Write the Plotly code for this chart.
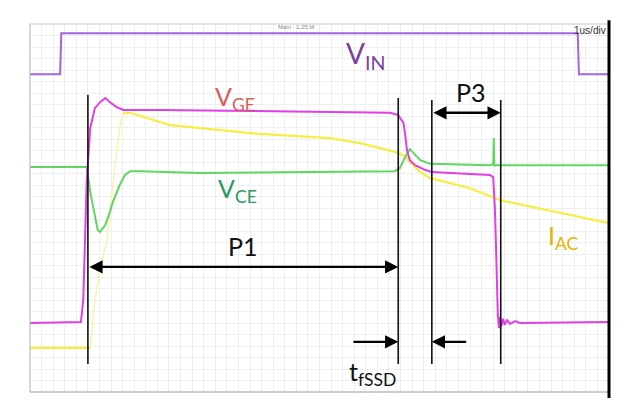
import plotly.graph_objects as go

# time axis in microseconds (1 us/div), vertical in scope divisions
vin_t = [0.00, 0.52, 0.54, 9.46, 9.48, 10.00]
vin_v = [6.91, 6.91, 7.80, 7.80, 6.91, 6.91]

vge_t = [0.00, 0.88, 0.92, 0.95, 0.98, 1.04, 1.12, 1.21, 1.30, 1.38, 1.49, 1.61, 2.25, 3.80,
         5.53, 6.22, 6.36, 6.45, 6.48, 6.51, 6.56, 6.65, 6.82, 6.94, 7.60, 7.94, 8.00, 8.03,
         8.05, 8.07, 8.08, 8.10, 8.12, 8.14, 8.17, 8.20, 8.24, 8.29, 8.38, 8.46, 10.00]
vge_v = [1.50, 1.52, 2.00, 3.30, 4.61, 5.74, 6.17, 6.30, 6.39, 6.30, 6.20, 6.13, 6.13, 6.11,
         6.09, 6.07, 6.02, 5.85, 5.59, 5.26, 5.04, 4.93, 4.83, 4.78, 4.74, 4.72, 4.67, 3.96,
         3.09, 2.20, 1.67, 1.39, 1.63, 1.43, 1.59, 1.46, 1.57, 1.48, 1.54, 1.50, 1.52]

vce_t = [0.00, 0.98, 1.04, 1.12, 1.17, 1.21, 1.30, 1.38, 1.43, 1.55, 1.64, 1.73, 1.90, 2.94,
         4.66, 6.30, 6.39, 6.48, 6.56, 6.65, 6.74, 6.91, 7.94, 8.00, 8.01, 8.02, 8.03, 10.00]
vce_v = [4.89, 4.89, 4.35, 3.80, 3.52, 3.48, 3.63, 3.91, 4.13, 4.50, 4.72, 4.80, 4.80, 4.76,
         4.78, 4.80, 4.87, 5.11, 5.28, 5.15, 5.04, 4.96, 4.93, 4.95, 5.52, 4.90, 4.93, 4.93]

iac_t = [0.00, 1.04, 1.07, 1.12, 1.21, 1.33, 1.42, 1.49, 1.55, 1.61, 1.73, 2.42, 3.28, 3.97,
         5.18, 5.70, 6.30, 6.48, 6.56, 6.74, 6.91, 7.60, 8.12, 10.00]
iac_v = [0.96, 0.96, 1.30, 2.00, 2.70, 3.30, 4.39, 5.11, 5.76, 6.07, 6.07, 5.80, 5.70, 5.61,
         5.52, 5.41, 5.22, 5.13, 5.00, 4.78, 4.65, 4.43, 4.17, 3.67]
iac_rise_end = 9  # index where the (faintly drawn) fast rise reaches its peak

# annotation geometry (time markers, in us / div)
marker_t = [1.00, 6.36, 6.94, 8.13]
marker_top = [6.46, 6.39, 6.35, 6.35]
marker_bottom = 0.61
p1_level = 2.72
p3_level = 6.07
tfssd_level = 1.09
tfssd_left_start = 5.56
tfssd_right_start = 7.56

labels = [
    ("V<sub>IN</sub>", 5.79, 7.33, "#7b3f9e", 28),
    ("V<sub>GE</sub>", 3.54, 6.39, "#d4605a", 25),
    ("V<sub>CE</sub>", 3.58, 4.39, "#2a9a62", 25),
    ("I<sub>AC</sub>", 9.21, 3.37, "#e2b400", 25),
    ("P1", 3.68, 3.17, "#111111", 25),
    ("P3", 7.62, 6.52, "#111111", 25),
    ("t<sub>fSSD</sub>", 5.91, 0.41, "#111111", 25),
]

fig = go.Figure()
fig.add_trace(go.Scatter(x=vin_t, y=vin_v, mode="lines", line=dict(color="#a563df", width=2)))
fig.add_trace(go.Scatter(x=iac_t[:2], y=iac_v[:2], mode="lines", line=dict(color="#f3ef45", width=2.2)))
fig.add_trace(go.Scatter(x=iac_t[1:iac_rise_end + 1], y=iac_v[1:iac_rise_end + 1], mode="lines",
                         line=dict(color="#f7f5a8", width=1.5)))
fig.add_trace(go.Scatter(x=iac_t[iac_rise_end:], y=iac_v[iac_rise_end:], mode="lines",
                         line=dict(color="#f3ef45", width=2.2)))
fig.add_trace(go.Scatter(x=vce_t, y=vce_v, mode="lines", line=dict(color="#5fd660", width=2)))
fig.add_trace(go.Scatter(x=vge_t, y=vge_v, mode="lines", line=dict(color="#e03fe6", width=2)))

shapes = []
for t, top in zip(marker_t, marker_top):
    shapes.append(dict(type="line", xref="x", yref="y", x0=t, x1=t, y0=marker_bottom, y1=top,
                       line=dict(color="#111111", width=1.6)))
# frame
shapes.append(dict(type="line", xref="paper", yref="paper", x0=0, x1=0, y0=0, y1=1,
                   line=dict(color="#bdbdbd", width=1.2)))
shapes.append(dict(type="line", xref="paper", yref="paper", x0=0, x1=1, y0=0, y1=0,
                   line=dict(color="#bdbdbd", width=1.5)))
shapes.append(dict(type="line", xref="paper", yref="paper", x0=0, x1=1, y0=1, y1=1,
                   line=dict(color="#c8c8c8", width=1)))
shapes.append(dict(type="line", xref="paper", yref="paper", x0=1, x1=1, y0=-0.02, y1=1.01,
                   line=dict(color="#000000", width=3)))

annotations = []
for txt, x, y, col, size in labels:
    annotations.append(dict(x=x, y=y, xref="x", yref="y", text=txt, showarrow=False,
                            font=dict(family="Lato, Open Sans, sans-serif", size=size, color=col)))

def arrow(x_to, x_from, y, both=False):
    return dict(x=x_to, y=y, ax=x_from, ay=y, xref="x", yref="y", axref="x", ayref="y",
                text="", showarrow=True, arrowhead=2, arrowsize=1.1, arrowwidth=2.4,
                arrowcolor="#000000", arrowside="end+start" if both else "end",
                startarrowhead=2, startarrowsize=1.1)

annotations.append(arrow(marker_t[1], marker_t[0], p1_level, both=True))
annotations.append(arrow(marker_t[3], marker_t[2], p3_level, both=True))
annotations.append(arrow(marker_t[1], tfssd_left_start, tfssd_level))
annotations.append(arrow(marker_t[2], tfssd_right_start, tfssd_level))
annotations.append(dict(x=9.98, y=7.85, xref="x", yref="y", text="1us/div", showarrow=False,
                        xanchor="right", font=dict(family="Liberation Sans Narrow, Arial", size=10, color="#333333")))
annotations.append(dict(x=4.6, y=7.93, xref="x", yref="y", text="Main : 1.25 M", showarrow=False,
                        font=dict(family="Liberation Sans", size=6, color="#888888")))

# page body adds an 8px margin, so the figure is sized to fit the 625x406 window
fig.update_layout(
    width=609, height=390,
    margin=dict(l=22, r=8, t=16, b=6),
    paper_bgcolor="white", plot_bgcolor="white",
    showlegend=False,
    shapes=shapes, annotations=annotations,
    xaxis=dict(range=[0, 10], showticklabels=False, ticks="", showgrid=True, gridcolor="#efefef",
               gridwidth=1, dtick=0.2, zeroline=False, showline=False, fixedrange=True),
    yaxis=dict(range=[0, 8], showticklabels=False, ticks="", showgrid=True, gridcolor="#efefef",
               gridwidth=1, dtick=0.25, zeroline=False, showline=False, fixedrange=True),
)

fig.write_html("out.html")
